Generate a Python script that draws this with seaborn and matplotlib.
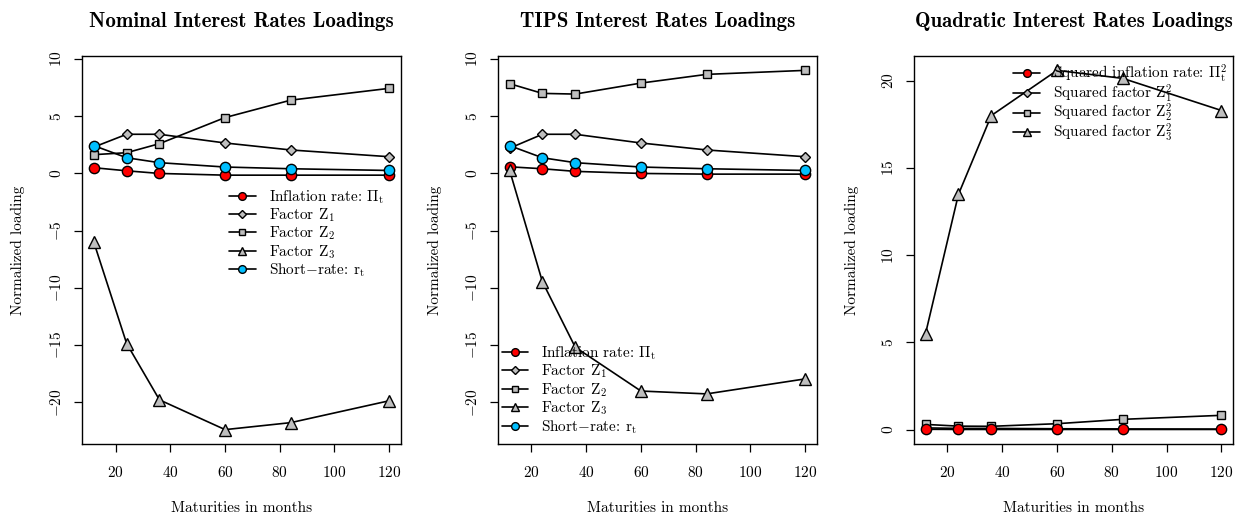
import matplotlib
matplotlib.use("Agg")
import matplotlib.pyplot as plt
import seaborn as sns
import numpy as np
import pandas as pd

# ---- data ----
maturities = [12, 24, 36, 60, 84, 120]

nom_inflation = [0.50, 0.23, 0.00, -0.15, -0.15, -0.15]
nom_z1 = [2.30, 3.42, 3.42, 2.66, 2.05, 1.46]
nom_z2 = [1.64, 1.81, 2.60, 4.88, 6.40, 7.43]
nom_z3 = [-6.00, -14.85, -19.77, -22.37, -21.76, -19.85]
nom_short = [2.43, 1.37, 0.94, 0.56, 0.41, 0.26]

tips_inflation = [0.58, 0.41, 0.18, 0.00, -0.06, -0.06]
tips_z1 = [2.20, 3.42, 3.42, 2.66, 2.05, 1.46]
tips_z2 = [7.84, 6.99, 6.93, 7.89, 8.65, 9.00]
tips_z3 = [0.30, -9.45, -15.17, -19.00, -19.25, -17.94]
tips_short = [2.43, 1.37, 0.94, 0.56, 0.41, 0.26]

quad_inflation2 = [0.02, 0.01, 0.01, 0.01, 0.01, 0.01]
quad_z1_2 = [0.10, 0.07, 0.07, 0.05, 0.04, 0.03]
quad_z2_2 = [0.30, 0.20, 0.19, 0.34, 0.59, 0.82]
quad_z3_2 = [5.50, 13.48, 18.00, 20.59, 20.13, 18.29]

titles = ["Nominal Interest Rates Loadings", "TIPS Interest Rates Loadings",
          "Quadratic Interest Rates Loadings"]
xlabel = "Maturities in months"
ylabel = "Normalized loading"

lab_lin = [r"Inflation rate: $\Pi_{\mathrm{t}}$", r"Factor $\mathrm{Z}_1$",
           r"Factor $\mathrm{Z}_2$", r"Factor $\mathrm{Z}_3$",
           r"Short$-$rate: $\mathrm{r}_{\mathrm{t}}$"]
lab_quad = [r"Squared inflation rate: $\Pi_{\mathrm{t}}^2$", r"Squared factor $\mathrm{Z}_1^2$",
            r"Squared factor $\mathrm{Z}_2^2$", r"Squared factor $\mathrm{Z}_3^2$"]

# ---- style ----
sns.set_style("ticks")
plt.rcParams["font.family"] = ["cmr10", "DejaVu Serif"]
plt.rcParams["mathtext.fontset"] = "cm"
plt.rcParams["axes.formatter.use_mathtext"] = True
plt.rcParams["axes.unicode_minus"] = True
plt.rcParams["text.color"] = "black"
plt.rcParams["axes.labelcolor"] = "black"
plt.rcParams["xtick.color"] = "black"
plt.rcParams["ytick.color"] = "black"

RED = "#FF0000"
BLUE = "#00BFFF"
GRAY = "#BEBEBE"

styles = {
    "infl": dict(marker="o", markersize=7.4, markerfacecolor=RED),
    "z1": dict(marker="D", markersize=5.2, markerfacecolor=GRAY),
    "z2": dict(marker="s", markersize=6.4, markerfacecolor=GRAY),
    "z3": dict(marker="^", markersize=8.4, markerfacecolor=GRAY),
    "short": dict(marker="o", markersize=7.4, markerfacecolor=BLUE),
}

W, H = 1242, 518
fig = plt.figure(figsize=(W / 100, H / 100), dpi=100)

boxes = [(82, 401), (497.7, 817), (913.7, 1233.3)]
top, bottom = 56, 444
axes = []
for (l, r) in boxes:
    ax = fig.add_axes([l / W, (H - bottom) / H, (r - l) / W, (bottom - top) / H])
    axes.append(ax)


def draw(ax, y, key, label, z):
    sns.lineplot(x=maturities, y=y, ax=ax, color="black", linewidth=1.2,
                 markeredgecolor="black", markeredgewidth=1.0, label=label,
                 zorder=z, legend=False, **styles[key])


# panel 1
ax = axes[0]
for y, k, lab, z in zip([nom_inflation, nom_z1, nom_z2, nom_z3, nom_short],
                        ["infl", "z1", "z2", "z3", "short"], lab_lin, [3, 4, 5, 6, 7]):
    draw(ax, y, k, lab, z)
# panel 2
ax = axes[1]
for y, k, lab, z in zip([tips_inflation, tips_z1, tips_z2, tips_z3, tips_short],
                        ["infl", "z1", "z2", "z3", "short"], lab_lin, [3, 4, 5, 6, 7]):
    draw(ax, y, k, lab, z)
# panel 3
ax = axes[2]
for y, k, lab, z in zip([quad_inflation2, quad_z1_2, quad_z2_2, quad_z3_2],
                        ["infl", "z1", "z2", "z3"], lab_quad, [7, 4, 5, 6]):
    draw(ax, y, k, lab, z)

# axes limits (R style 4% extension)
xmin, xmax = min(maturities), max(maturities)
xr = xmax - xmin
lin_vals = nom_inflation + nom_z1 + nom_z2 + nom_z3 + nom_short + \
    tips_inflation + tips_z1 + tips_z2 + tips_z3 + tips_short
ymin, ymax = min(lin_vals), max(lin_vals)
yr = ymax - ymin
quad_vals = quad_inflation2 + quad_z1_2 + quad_z2_2 + quad_z3_2
qmin, qmax = 0.0, max(quad_vals)
qr = qmax - qmin

ylims = [(ymin - 0.04 * yr, ymax + 0.04 * yr)] * 2 + [(qmin - 0.04 * qr, qmax + 0.04 * qr)]
yticks = [[-20, -15, -10, -5, 0, 5, 10]] * 2 + [[0, 5, 10, 15, 20]]
ylab_x = [-0.2006, -0.197, -0.193]
leg_anchor = [(0.461, 0.660), (0.0125, 0.2565), (0.3116, 0.982)]
leg_space = [0.05, 0.05, -0.16]

for i, ax in enumerate(axes):
    ax.set_xlim(xmin - 0.04 * xr, xmax + 0.04 * xr)
    ax.set_ylim(*ylims[i])
    ax.set_xticks([20, 40, 60, 80, 100, 120])
    ax.set_yticks(yticks[i])
    for s in ax.spines.values():
        s.set_visible(True)
        s.set_linewidth(1.0)
        s.set_color("black")
    ax.tick_params(axis="both", direction="out", length=6, width=0.9,
                   labelsize=11, colors="black")
    ax.tick_params(axis="x", pad=9)
    ax.tick_params(axis="y", pad=7)
    for t in ax.get_yticklabels():
        t.set_rotation(90)
        t.set_va("center")
    ax.set_xlabel(xlabel, fontsize=11, va="center")
    ax.set_ylabel(ylabel, fontsize=11, va="center")
    ax.xaxis.set_label_coords(0.5, -0.165)
    ax.yaxis.set_label_coords(ylab_x[i], 0.5)
    ax.set_title(titles[i], fontsize=15, family="cmb10", pad=21, color="black")
    handles, labels = ax.get_legend_handles_labels()
    leg = ax.legend(handles, labels, loc="upper left", bbox_to_anchor=leg_anchor[i],
                    frameon=False, fontsize=11, markerscale=0.75, borderpad=0,
                    borderaxespad=0, handlelength=1.75, handletextpad=0.85,
                    labelspacing=leg_space[i])
    leg.set_zorder(20)

fig.savefig("out.png", dpi=100)
